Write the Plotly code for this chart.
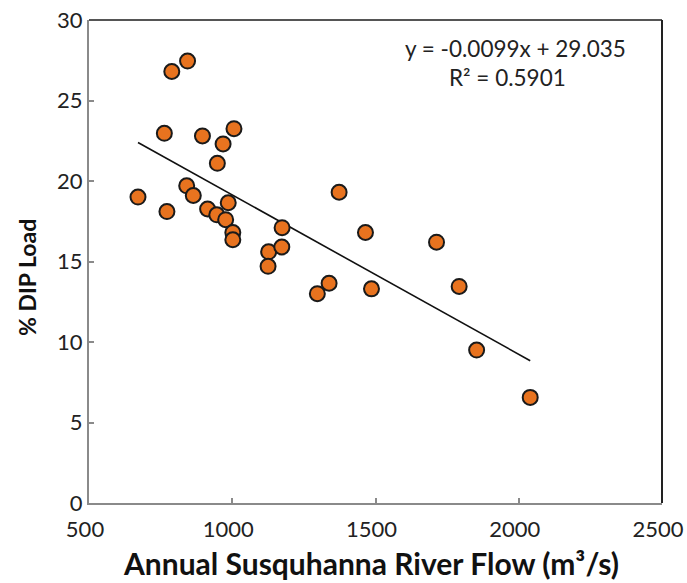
import plotly.graph_objects as go

flow = [671, 772, 763, 789, 844, 841, 864, 896, 914, 948, 946, 968, 977, 986, 1006,
        1002, 1002, 1127, 1125, 1174, 1173, 1297, 1338, 1373, 1465, 1486, 1713, 1792, 1853, 2040]
dip = [19.0, 18.1, 22.96, 26.8, 27.45, 19.7, 19.1, 22.8, 18.26, 21.1, 17.9, 22.3, 17.6, 18.65, 23.25,
       16.8, 16.35, 15.6, 14.7, 17.1, 15.9, 13.0, 13.65, 19.3, 16.8, 13.3, 16.2, 13.45, 9.5, 6.56]
slope = -0.0099
intercept = 29.035
fit_x = [min(flow), max(flow)]
fit_y = [slope * v + intercept for v in fit_x]

font = "Lato, 'Open Sans', sans-serif"
fig = go.Figure()
fig.add_trace(go.Scatter(x=fit_x, y=fit_y, mode="lines",
                         line=dict(color="#111111", width=1.6), showlegend=False))
fig.add_trace(go.Scatter(x=flow, y=dip, mode="markers",
                         marker=dict(size=15, color="#E8731F", line=dict(color="#1a1a1a", width=2)),
                         showlegend=False))
fig.add_annotation(x=1987, y=28.22, text="y = -0.0099x + 29.035", showarrow=False,
                   font=dict(family=font, size=22.5, color="#222"), xanchor="center", yanchor="middle")
fig.add_annotation(x=1962, y=26.45, text="R² = 0.5901", showarrow=False,
                   font=dict(family=font, size=22.5, color="#222"), xanchor="center", yanchor="middle")
# axis titles
fig.add_annotation(xref="paper", yref="paper", x=0.493, y=-0.125,
                   text="<b>Annual Susquhanna River Flow (m³/s)</b>", showarrow=False,
                   font=dict(family=font, size=30, color="#111"), xanchor="center", yanchor="middle")
fig.add_annotation(xref="paper", yref="paper", x=-0.1082, y=0.4658, textangle=-90,
                   text="<b>% DIP Load</b>", showarrow=False,
                   font=dict(family=font, size=23, color="#111"), xanchor="center", yanchor="middle")
# frame: top and right edges
fig.add_shape(type="line", xref="paper", yref="paper", x0=0, x1=1, y0=1, y1=1,
              line=dict(color="#555555", width=2))
fig.add_shape(type="line", xref="paper", yref="paper", x0=1, x1=1, y0=0, y1=1,
              line=dict(color="#222222", width=2))
axcommon = dict(showgrid=False, zeroline=False, showline=True, linecolor="#8a8a8a", linewidth=2,
                mirror=False, ticks="inside", tickcolor="#8a8a8a", ticklen=5, tickwidth=1.5,
                automargin=False, tickfont=dict(family=font, size=22, color="#222"))
fig.update_xaxes(range=[500, 2500], tickvals=[500, 1000, 1500, 2000, 2500],
                 ticklabelshift=-4, ticklabelstandoff=6, **axcommon)
fig.update_yaxes(range=[0, 30], tickvals=[0, 5, 10, 15, 20, 25, 30], ticklabelstandoff=0,
                 **axcommon)
fig.update_layout(width=687, height=583, margin=dict(l=89, r=25, t=20, b=80, autoexpand=False),
                  plot_bgcolor="white", paper_bgcolor="white")
fig.write_html("out.html")
